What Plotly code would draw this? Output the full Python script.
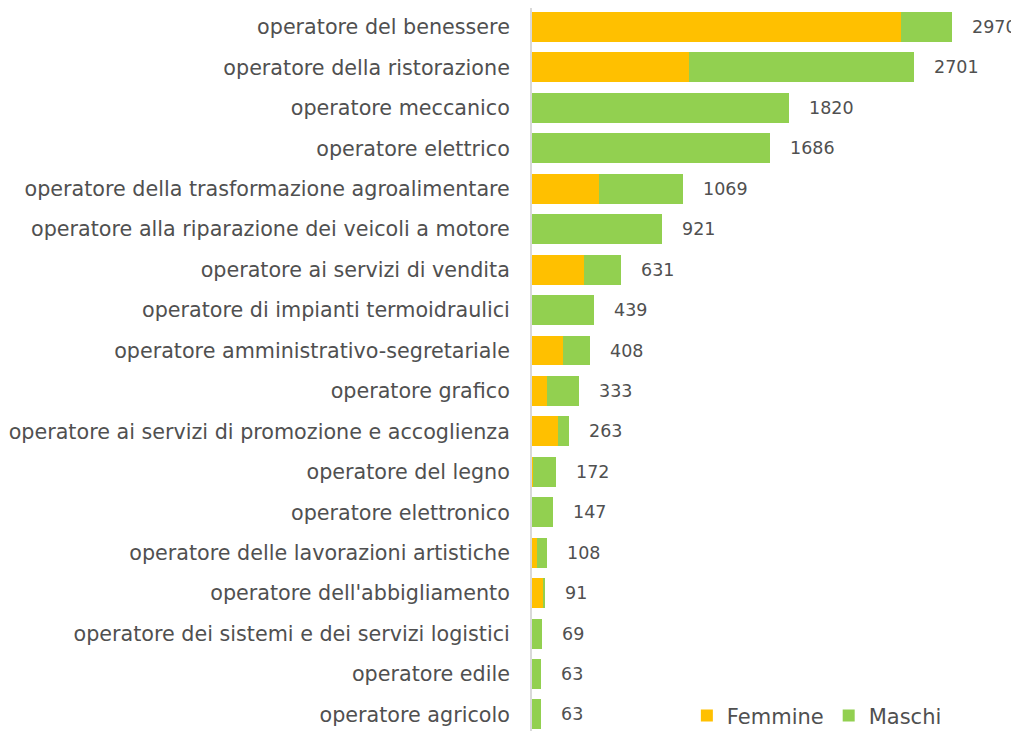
import plotly.graph_objects as go

categories = [
    "operatore del benessere",
    "operatore della ristorazione",
    "operatore meccanico",
    "operatore elettrico",
    "operatore della trasformazione agroalimentare",
    "operatore alla riparazione dei veicoli a motore",
    "operatore ai servizi di vendita",
    "operatore di impianti termoidraulici",
    "operatore amministrativo-segretariale",
    "operatore grafico",
    "operatore ai servizi di promozione e accoglienza",
    "operatore del legno",
    "operatore elettronico",
    "operatore delle lavorazioni artistiche",
    "operatore dell'abbigliamento",
    "operatore dei sistemi e dei servizi logistici",
    "operatore edile",
    "operatore agricolo",
]
femmine = [2612, 1113, 0, 0, 474, 0, 368, 0, 219, 106, 182, 5, 0, 38, 84, 0, 0, 0]
maschi = [358, 1588, 1820, 1686, 595, 921, 263, 439, 189, 227, 81, 167, 147, 70, 7, 69, 63, 63]
totali = [2970, 2701, 1820, 1686, 1069, 921, 631, 439, 408, 333, 263, 172, 147, 108, 91, 69, 63, 63]

# reverse so first category is on top
cats = categories[::-1]
fem = femmine[::-1]
mas = maschi[::-1]
tot = totali[::-1]

FONT = "DejaVu Sans"
TXT = "#505050"

fig = go.Figure()
fig.add_trace(go.Bar(y=cats, x=fem, orientation="h", name="Femmine",
                     marker=dict(color="#FFC000", line=dict(width=0))))
fig.add_trace(go.Bar(y=cats, x=mas, orientation="h", name="Maschi",
                     marker=dict(color="#92D050", line=dict(width=0))))

for c, t in zip(cats, tot):
    fig.add_annotation(x=t, y=c, text=str(t), showarrow=False, xanchor="left",
                       xshift=18, font=dict(family=FONT, size=17.5, color=TXT))

fig.update_layout(
    barmode="stack",
    bargap=0.26,
    width=1011, height=740,
    margin=dict(l=524, r=0, t=0, b=0),
    plot_bgcolor="white", paper_bgcolor="white",
    font=dict(family=FONT, size=18, color=TXT),
    xaxis=dict(range=[0, 3444], showgrid=False, zeroline=False,
               showticklabels=False, showline=False, automargin=False),
    yaxis=dict(range=[-0.83, 17.47], showgrid=False, zeroline=False,
               showline=True, linecolor="#d9d9d9", linewidth=2,
               ticks="", ticklabelstandoff=16, automargin=False,
               tickfont=dict(family=FONT, size=20.7, color=TXT)),
    legend=dict(orientation="h", x=0.318, y=0.0435, xanchor="left", yanchor="middle",
                font=dict(family=FONT, size=21, color=TXT), bgcolor="rgba(0,0,0,0)",
                traceorder="normal"),
)

fig.write_html("out.html")
